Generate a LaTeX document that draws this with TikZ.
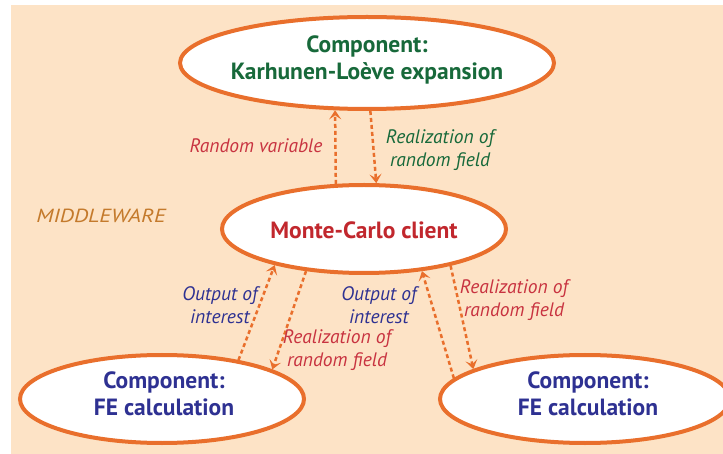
\documentclass[tikz,border=0pt]{standalone}
\usepackage{fontspec}
\setmainfont{PT Sans}
\usetikzlibrary{shapes.geometric,arrows.meta}
\definecolor{peach}{HTML}{FDE3C6}
\definecolor{orangeline}{HTML}{E96F2C}
\definecolor{klgreen}{HTML}{17693A}
\definecolor{mcred}{HTML}{C1272D}
\definecolor{feblue}{HTML}{2E3192}
\definecolor{lblred}{HTML}{C83340}
\definecolor{mwbrown}{HTML}{C47A2C}
\begin{document}
\begin{tikzpicture}[x=1pt,y=-1pt,
  comp/.style={ellipse,draw=orangeline,line width=4pt,fill=white,inner sep=0pt},
  ttl/.style={font=\fontsize{23.5}{26.5}\selectfont\bfseries,align=center},
  lbl/.style={font=\fontsize{19.5}{22.5}\selectfont\itshape,align=center},
  flow/.style={draw=orangeline,line width=2.5pt,dash pattern=on 4pt off 3pt,
    -{Stealth[length=9pt,width=12pt,inset=4pt]}}]
\useasboundingbox (0,0) rectangle (723,454);
\fill[peach] (11,5) rectangle (723,454);

\node[comp,minimum width=374pt,minimum height=92pt] (kl) at (367,63) {};
\node[comp,minimum width=284pt,minimum height=88pt] (mc) at (364,229) {};
\node[comp,minimum width=284pt,minimum height=88pt] (fel) at (162,399) {};
\node[comp,minimum width=290pt,minimum height=88pt] (fer) at (585,399) {};

\node[ttl,text=klgreen] (kltext) at (367,60) {Component:\\Karhunen-Loève expansion};
\node[ttl,text=mcred] (mctext) at (364,230) {Monte-Carlo client};
\node[ttl,text=feblue] (feltext) at (164,394) {Component:\\FE calculation};
\node[ttl,text=feblue] (fertext) at (588,394) {Component:\\FE calculation};

\node[text=mwbrown,font=\fontsize{19}{22}\selectfont\itshape] (mw) at (101,216) {\scalebox{1.2}[1]{MIDDLEWARE}};

\draw[flow] (mc.122.8) -- (kl.-124);
\draw[flow] (kl.-86.4) -- (mc.75.3);
\draw[flow] (fel.27.2) -- (mc.-158.6);
\draw[flow] (mc.-144.6) -- (fel.15.1);
\draw[flow] (fer.171.3) -- (mc.-36);
\draw[flow] (mc.-23.6) -- (fer.165.1);

\node[lbl,text=lblred,anchor=east] (rv) at (326,146) {Random variable};
\node[lbl,text=klgreen] (rf1) at (440,150) {Realization of\\random field};
\node[lbl,text=feblue] (oi1) at (220,305) {Output of\\interest};
\node[lbl,text=lblred] (rf2) at (337,350) {Realization of\\random field};
\node[lbl,text=feblue] (oi2) at (379,305) {Output of\\interest};
\node[lbl,text=lblred] (rf3) at (514,300) {Realization of\\random field};
\end{tikzpicture}
\end{document}
